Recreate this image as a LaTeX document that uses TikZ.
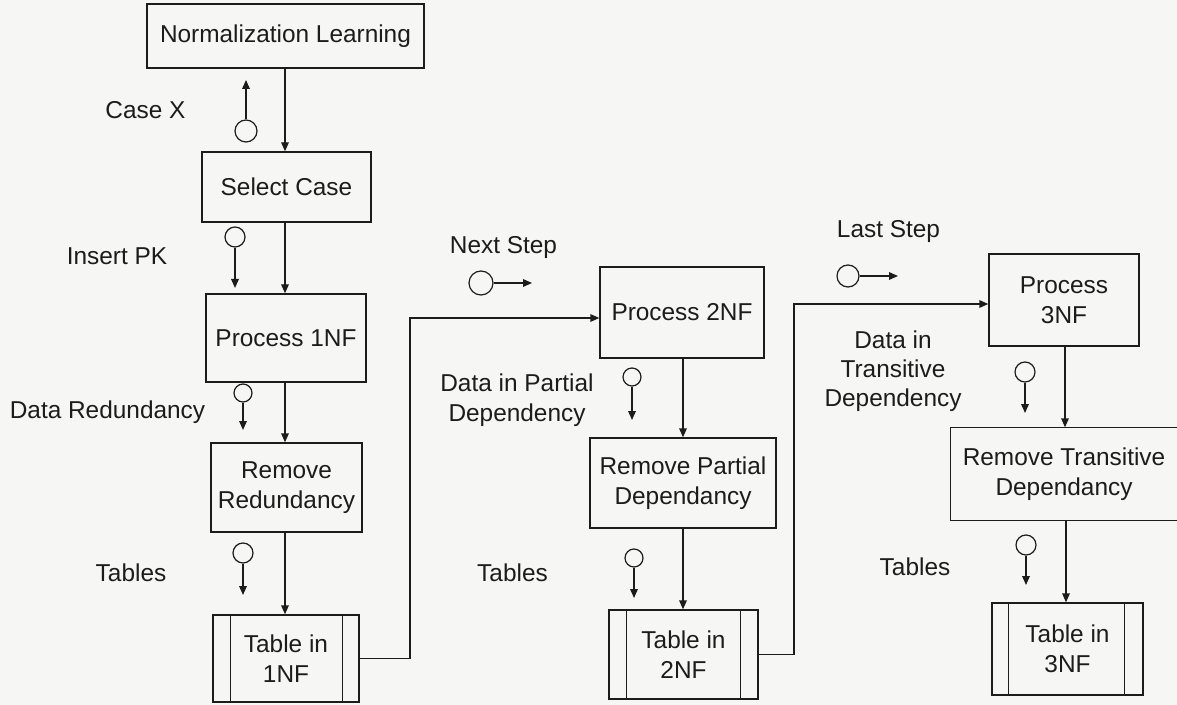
\documentclass[tikz,border=0pt]{standalone}
\usepackage{fontspec}
\setmainfont{Liberation Sans}
\usetikzlibrary{arrows.meta}
\definecolor{paper}{RGB}{246,246,244}
\definecolor{ink}{RGB}{28,28,28}
\begin{document}
\begin{tikzpicture}[x=0.5pt,y=-0.5pt,
  font=\fontsize{12.2}{15}\selectfont,
  proc/.style={draw=ink, line width=0.7pt, align=center, inner sep=0pt, text=ink},
  flag/.style={draw=ink, circle, line width=0.6pt, inner sep=0pt, minimum size=#1},
  flag/.default=10pt,
  flow/.style={draw=ink, line width=0.7pt, -{Triangle[length=4.5pt,width=3.8pt]}},
  lbl/.style={align=center, text=ink, inner sep=0pt}]

% page
\fill[paper] (0,0) rectangle (1177,705);
\useasboundingbox (0,0) rectangle (1177,705);

% ---------- first normal form column ----------
\node[proc, minimum width=138.5pt, minimum height=32pt] (NL) at (285.5,36) {Normalization Learning};
\node[proc, minimum width=84.5pt, minimum height=35pt] (SC) at (286.5,187) {Select Case};
\node[proc, minimum width=80pt, minimum height=44pt] (P1) at (286,338) {Process 1NF};
\node[proc, minimum width=75.5pt, minimum height=44.5pt] (RR) at (286.5,487.5) {Remove\\Redundancy};
\node[proc, minimum width=73pt, minimum height=43.5pt] (T1) at (286,658.5) {Table in\\1NF};
\draw[ink, line width=0.7pt] ([xshift=9pt]T1.north west) -- ([xshift=9pt]T1.south west);
\draw[ink, line width=0.7pt] ([xshift=-8.5pt]T1.north east) -- ([xshift=-8.5pt]T1.south east);

\draw[flow] (NL.south -| 285,0) -- (SC.north -| 285,0);
\draw[flow] (SC.south -| 285,0) -- (P1.north -| 285,0);
\draw[flow] (P1.south -| 285,0) -- (RR.north -| 285,0);
\draw[flow] (RR.south -| 285,0) -- (T1.north -| 285,0);

% data couples, first column
\node[flag=11pt] (cx) at (246,131) {};
\coordinate (cxe) at (246,80);
\draw[flow] (cx) -- (cxe);
\node[lbl] (lcx) at (145.5,110) {Case X};

\node[flag=10pt] (pk) at (235,237) {};
\coordinate (pke) at (235,288);
\draw[flow] (pk) -- (pke);
\node[lbl] (lpk) at (117,256) {Insert PK};

\node[flag=9pt] (dr) at (243,393) {};
\coordinate (dre) at (243,430);
\draw[flow] (dr) -- (dre);
\node[lbl] (ldr) at (107.5,412) {Data Redundancy};

\node[flag=10pt] (t1f) at (243,553) {};
\coordinate (t1e) at (243,595);
\draw[flow] (t1f) -- (t1e);
\node[lbl] (lt1) at (131,573) {Tables};

% ---------- second normal form column ----------
\node[proc, minimum width=82pt, minimum height=45.5pt] (P2) at (682,312.5) {Process 2NF};
\node[proc, minimum width=93pt, minimum height=45pt] (RPD) at (683,483) {Remove Partial\\Dependancy};
\node[proc, minimum width=74.5pt, minimum height=44.5pt] (T2) at (683.5,654.5) {Table in\\2NF};
\draw[ink, line width=0.7pt] ([xshift=9pt]T2.north west) -- ([xshift=9pt]T2.south west);
\draw[ink, line width=0.7pt] ([xshift=-9pt]T2.north east) -- ([xshift=-9pt]T2.south east);

\draw[flow] (P2.south -| 683,0) -- (RPD.north -| 683,0);
\draw[flow] (RPD.south -| 683,0) -- (T2.north -| 683,0);

\coordinate (j1) at (410,318);
\draw[flow] (T1.east) -| (j1) -- (j1 -| P2.west);

\node[flag=12pt] (ns) at (481,283) {};
\coordinate (nse) at (532,283);
\draw[flow] (ns) -- (nse);
\node[lbl] (lns) at (503.5,248) {Next Step};

\node[flag=9pt] (dp) at (632,377) {};
\coordinate (dpe) at (632,420);
\draw[flow] (dp) -- (dpe);
\node[lbl] (ldp) at (517,400) {Data in Partial\\Dependency};

\node[flag=9pt] (t2f) at (634,558) {};
\coordinate (t2e) at (634,598);
\draw[flow] (t2f) -- (t2e);
\node[lbl] (lt2) at (512.5,573) {Tables};

% ---------- third normal form column ----------
\node[proc, minimum width=75pt, minimum height=46pt] (P3) at (1064,300) {Process\\3NF};
\node[proc, draw=none, minimum width=113pt, minimum height=46pt] (RTD) at (1064,474) {Remove Transitive\\Dependancy};
\draw[ink, line width=0.7pt] (RTD.north east) -- (RTD.north west) -- (RTD.south west) -- (RTD.south east);
\node[proc, minimum width=75.5pt, minimum height=46pt] (T3) at (1067.5,649) {Table in\\3NF};
\draw[ink, line width=0.7pt] ([xshift=8.5pt]T3.north west) -- ([xshift=8.5pt]T3.south west);
\draw[ink, line width=0.7pt] ([xshift=-9.5pt]T3.north east) -- ([xshift=-9.5pt]T3.south east);

\draw[flow] (P3.south -| 1065,0) -- (RTD.north -| 1065,0);
\draw[flow] (RTD.south -| 1066,0) -- (T3.north -| 1066,0);

\coordinate (j2) at (794,304);
\draw[flow] (T2.east) -| (j2) -- (j2 -| P3.west);

\node[flag=11pt] (ls) at (848,276) {};
\coordinate (lse) at (898,276);
\draw[flow] (ls) -- (lse);
\node[lbl] (lls) at (888.5,232) {Last Step};

\node[flag=10pt] (dt) at (1025,372) {};
\coordinate (dte) at (1025,413);
\draw[flow] (dt) -- (dte);
\node[lbl, font=\fontsize{12.2}{14.5}\selectfont] (ldt) at (893,371) {Data in\\Transitive\\Dependency};

\node[flag=10pt] (t3f) at (1026,545) {};
\coordinate (t3e) at (1026,585);
\draw[flow] (t3f) -- (t3e);
\node[lbl] (lt3) at (915,567) {Tables};
\end{tikzpicture}
\end{document}
